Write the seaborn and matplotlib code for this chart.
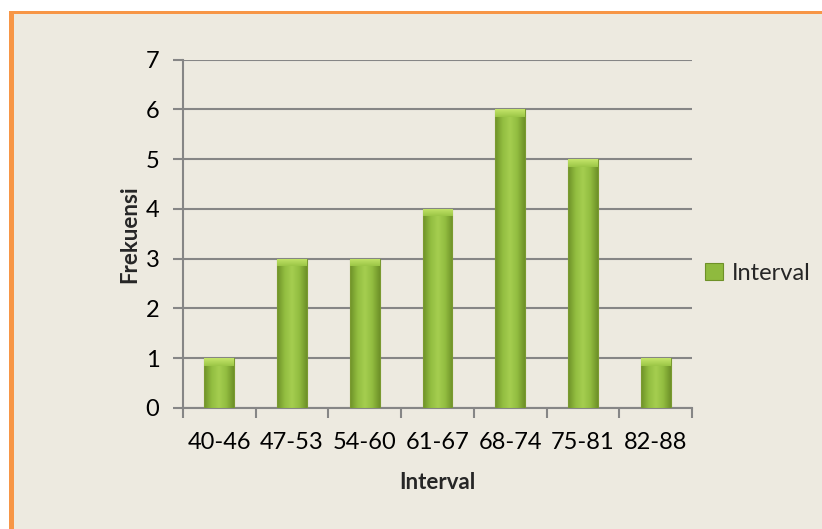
import numpy as np
import pandas as pd
import matplotlib.pyplot as plt
import seaborn as sns
from matplotlib.patches import Rectangle
from matplotlib.colors import LinearSegmentedColormap

# data
intervals = ['40-46', '47-53', '54-60', '61-67', '68-74', '75-81', '82-88']
frekuensi = [1, 3, 3, 4, 6, 5, 1]
y_ticks = [0, 1, 2, 3, 4, 5, 6, 7]

df = pd.DataFrame({'Interval': intervals, 'Frekuensi': frekuensi})

sns.set_theme(style="white")
plt.rcParams['font.family'] = ['Lato', 'DejaVu Sans']

bg = '#EDEAE0'
fig = plt.figure(figsize=(8.22, 5.29), dpi=100)
fig.patch.set_facecolor('white')

# chart area background with the orange border on left/top
fig.patches.append(Rectangle((14 / 822, 0), 1, 1 - 14 / 529, transform=fig.transFigure,
                             facecolor=bg, edgecolor='none', zorder=-2))
fig.patches.append(Rectangle((9 / 822, 0), 5 / 822, 1 - 11 / 529, transform=fig.transFigure,
                             facecolor='#F79646', edgecolor='none', zorder=-1))
fig.patches.append(Rectangle((9 / 822, 1 - 14 / 529), 1, 3 / 529, transform=fig.transFigure,
                             facecolor='#F79646', edgecolor='none', zorder=-1))

ax = fig.add_axes([183 / 822, 1 - 408 / 529, (692 - 183) / 822, (408 - 59.5) / 529])
ax.set_facecolor(bg)

sns.barplot(data=df, x='Interval', y='Frekuensi', color='#8DB63C', width=0.41,
            ax=ax, zorder=3)

# gradient fill on each bar (darker edges, lighter centre)
cmap = LinearSegmentedColormap.from_list(
    'g', ['#6E9128', '#92BD40', '#A5CE50', '#92BD40', '#6E9128'])
grad = np.linspace(0, 1, 64).reshape(1, -1)
bevel = LinearSegmentedColormap.from_list('b', ['#9CC647', '#C4E46A'])
for p in list(ax.patches):
    x0, y0 = p.get_x(), p.get_y()
    w, h = p.get_width(), p.get_height()
    p.set_facecolor('none')
    p.set_edgecolor('#7A9A30')
    p.set_linewidth(0.8)
    im = ax.imshow(grad, cmap=cmap, aspect='auto', extent=(x0, x0 + w, y0, y0 + h),
                   zorder=2.9, interpolation='bicubic')
    im.set_clip_path(p)
    # light bevel at the top
    vg = np.linspace(0, 1, 16).reshape(-1, 1)
    bv = ax.imshow(vg, cmap=bevel, aspect='auto', origin='lower',
                   extent=(x0, x0 + w, y0 + h - 0.15, y0 + h), zorder=3.1)
    bv.set_clip_path(p)

ax.set_xlim(-0.5, len(intervals) - 0.5)
ax.set_ylim(0, 7)
ax.set_yticks(y_ticks)
ax.set_xticks(np.arange(len(intervals)))
ax.set_xticklabels(intervals)

# tick marks between categories on x
ax.set_xticks(np.arange(-0.5, len(intervals)), minor=True)
ax.tick_params(axis='x', which='major', length=0, pad=17, labelsize=17, colors='black')
ax.tick_params(axis='x', which='minor', length=7, width=1.5, color='#868686', direction='out', bottom=True)
ax.tick_params(axis='y', length=7, width=1.5, color='#868686', direction='out',
               pad=10, labelsize=17, labelcolor='black', left=True)

ax.grid(axis='y', color='#868686', linewidth=1.5, zorder=0)
ax.set_axisbelow(True)
for s in ['top', 'right']:
    ax.spines[s].set_visible(False)
for s in ['left', 'bottom']:
    ax.spines[s].set_color('#868686')
    ax.spines[s].set_linewidth(1.5)

ax.set_xlabel('Interval', fontsize=16, fontweight='bold', labelpad=14)
ax.set_ylabel('Frekuensi', fontsize=16, fontweight='bold', labelpad=4)

handle = Rectangle((0, 0), 1, 1, facecolor='#8FBA3E', edgecolor='#6E9128', linewidth=0.8)
ax.legend([handle], ['Interval'], loc='center left', bbox_to_anchor=(1.0255, 0.387),
          frameon=False, fontsize=17, handlelength=0.75, handleheight=0.75,
          handletextpad=0.4, borderaxespad=0, borderpad=0)

fig.savefig('out.png', dpi=100, facecolor=fig.get_facecolor())
